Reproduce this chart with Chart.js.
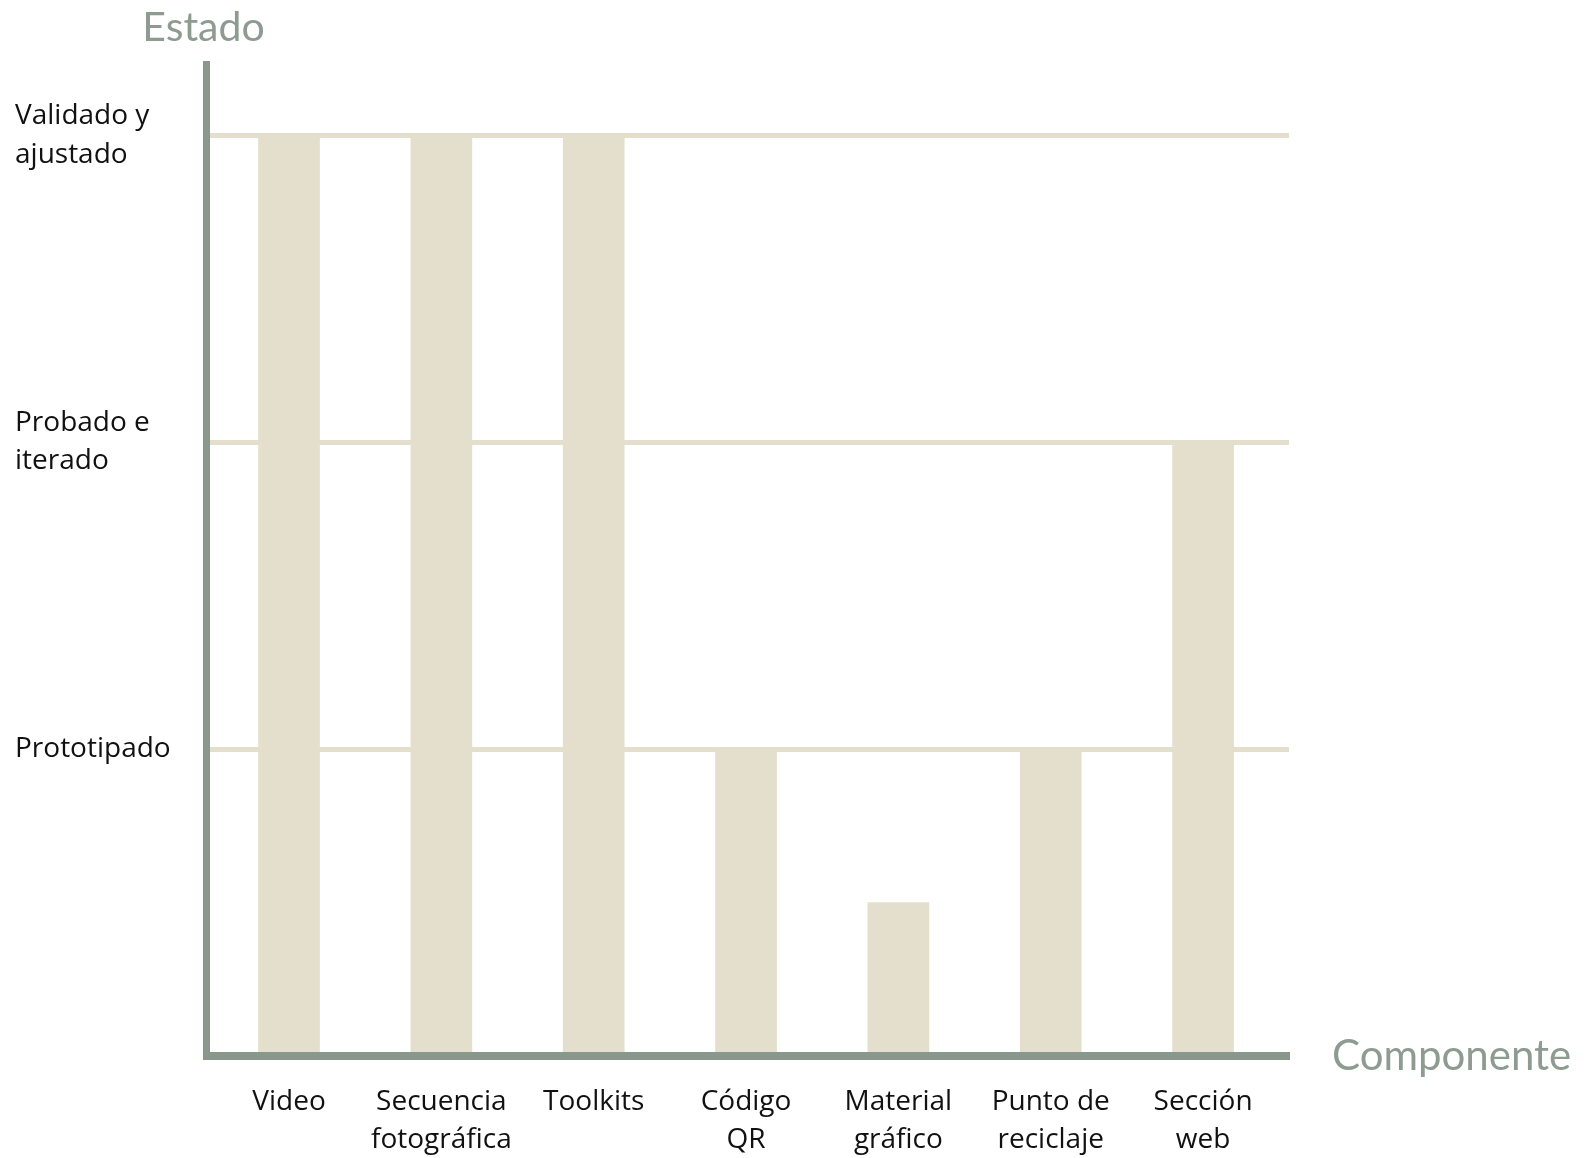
<!DOCTYPE html>
<html>
<head>
<meta charset="utf-8">
<script src="https://cdn.jsdelivr.net/npm/chart.js@4"></script>
<style>
  html, body { margin: 0; padding: 0; background: #fff; }
  #wrap { width: 1591px; height: 1158px; position: relative; }
</style>
</head>
<body>
<div id="wrap"><canvas id="ch_estado"></canvas></div>
<script>
/* Estado de cada componente (0 = sin avance, 1 = Prototipado, 2 = Probado, 3 = Validado) */
const components = [
  ['Video'], ['Secuencia', 'fotográfica'], ['Toolkits'], ['Código', 'QR'],
  ['Material', 'gráfico'], ['Punto de', 'reciclaje'], ['Sección', 'web']
];
const estado = [3, 3, 3, 1, 0.5, 1, 2];
const stageLabels = ['', 'Prototipado', ['Probado e', 'iterado'], ['Validado y', 'ajustado']];
const yTitle = 'Estado';
const xTitle = 'Componente';

const AXIS = '#8a978c';
const BAR = '#e3dfcc';
const TITLE = '#8e9b91';
const LABEL_FONT = { family: '"Open Sans", sans-serif', size: 28, lineHeight: 1.36 };

// axis titles sit outside the scales: above the y axis, right of the x axis
const axisTitles = {
  id: 'axisTitles',
  afterDraw(chart) {
    const { ctx, chartArea } = chart;
    ctx.save();
    ctx.fillStyle = TITLE;
    ctx.textBaseline = 'middle';
    ctx.font = '41px Lato, sans-serif';
    ctx.textAlign = 'center';
    ctx.fillText(yTitle, chartArea.left - 3, 28);
    ctx.font = '42px Lato, sans-serif';
    ctx.textAlign = 'left';
    ctx.fillText(xTitle, chartArea.right + 43, chartArea.bottom);
    ctx.restore();
  }
};

const chart = new Chart(document.getElementById('ch_estado').getContext('2d'), {
  type: 'bar',
  data: {
    datasets: [{
      label: yTitle,
      data: estado.map((v, i) => ({ x: i, y: v })),
      backgroundColor: BAR,
      borderWidth: 0,
      barThickness: 61
    }]
  },
  options: {
    responsive: true,
    maintainAspectRatio: false,
    animation: false,
    layout: { padding: { top: 64, left: 15, right: 302, bottom: 0 } },
    plugins: { legend: { display: false }, tooltip: { enabled: false } },
    scales: {
      x: {
        type: 'linear',
        offset: false,
        min: -0.5416, max: 6.564,
        grid: { display: false, drawTicks: false },
        border: { display: true, color: AXIS, width: 8, z: 1 },
        ticks: {
          stepSize: 1, includeBounds: false, autoSkip: false, maxRotation: 0,
          padding: 27, color: '#111', font: LABEL_FONT,
          callback: v => Math.abs(v - Math.round(v)) < 1e-6 && components[Math.round(v)] ? components[Math.round(v)] : ''
        },
        afterFit: s => { s.height = 102; }
      },
      y: {
        min: 0, max: 3.233,
        grid: { color: BAR, lineWidth: 5, drawTicks: false },
        border: { display: true, color: AXIS, width: 7, z: 1 },
        ticks: {
          stepSize: 1, includeBounds: false, crossAlign: 'far',
          color: '#111', font: LABEL_FONT,
          callback: v => stageLabels[Math.round(v)] ?? ''
        },
        afterFit: s => { s.width = 191.5; }
      }
    }
  },
  plugins: [axisTitles]
});
</script>
</body>
</html>
